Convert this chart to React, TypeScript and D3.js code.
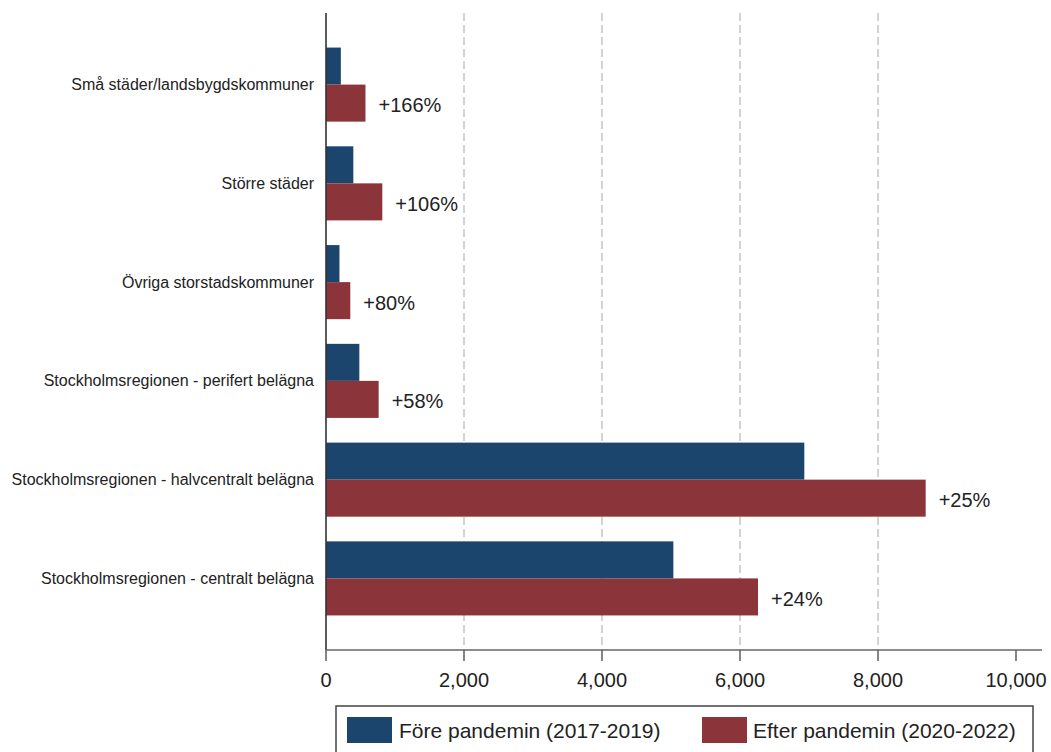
import React from "react";
import * as d3 from "d3";

const categories = [
  "Små städer/landsbygdskommuner",
  "Större städer",
  "Övriga storstadskommuner",
  "Stockholmsregionen - perifert belägna",
  "Stockholmsregionen - halvcentralt belägna",
  "Stockholmsregionen - centralt belägna",
];
const beforeValues = [215, 396, 195, 483, 6932, 5034];
const afterValues = [572, 816, 352, 763, 8691, 6261];
const changeLabels = ["+166%", "+106%", "+80%", "+58%", "+25%", "+24%"];
const seriesNames = ["Före pandemin (2017-2019)", "Efter pandemin (2020-2022)"];
const seriesColors = ["#1b456d", "#8b343a"];
const xTicks = [0, 2000, 4000, 6000, 8000, 10000];
const gridTicks = [2000, 4000, 6000, 8000];

const W = 1051;
const H = 752;
const FONT = "'Liberation Sans', Arial, sans-serif";

export default function App() {
  const axisY = 650;
  const x = d3.scaleLinear().domain([0, 10000]).range([326, 1016]);
  const y = d3
    .scaleBand<string>()
    .domain(categories)
    .range([13, axisY])
    .paddingInner(0.25)
    .paddingOuter(0.35);
  const inner = d3
    .scaleBand<string>()
    .domain(["before", "after"])
    .range([0, y.bandwidth()])
    .padding(0);
  const fmt = d3.format(",");

  return (
    <svg
      width={W}
      height={H}
      style={{ position: "absolute", left: 0, top: 0, display: "block", background: "#fff" }}
      fontFamily={FONT}
    >
      {/* grid lines */}
      {gridTicks.map((t) => (
        <line
          key={"g" + t}
          x1={x(t)}
          x2={x(t)}
          y1={13}
          y2={axisY}
          stroke="#d3d3d3"
          strokeWidth={2}
          strokeDasharray="8,4"
        />
      ))}

      {/* bars */}
      {categories.map((c, i) => {
        const y0 = y(c) as number;
        return (
          <g key={c}>
            <rect
              x={x(0)}
              y={y0 + (inner("before") as number)}
              width={x(beforeValues[i]) - x(0)}
              height={inner.bandwidth()}
              fill={seriesColors[0]}
            />
            <rect
              x={x(0)}
              y={y0 + (inner("after") as number)}
              width={x(afterValues[i]) - x(0)}
              height={inner.bandwidth()}
              fill={seriesColors[1]}
            />
            <text
              x={x(afterValues[i]) + 13}
              y={y0 + (inner("after") as number) + inner.bandwidth() / 2 + 2}
              dominantBaseline="central"
              fontSize={20}
              fill="#222"
            >
              {changeLabels[i]}
            </text>
            <text
              x={314}
              y={y0 + y.bandwidth() / 2}
              textAnchor="end"
              dominantBaseline="central"
              fontSize={16}
              fill="#222"
            >
              {c}
            </text>
          </g>
        );
      })}

      {/* y axis line */}
      <line x1={326} x2={326} y1={13} y2={axisY} stroke="#333" strokeWidth={1.6} />

      {/* x axis */}
      <line x1={326} x2={1042} y1={axisY} y2={axisY} stroke="#666" strokeWidth={1.6} />
      {xTicks.map((t) => (
        <g key={"t" + t}>
          <line x1={x(t)} x2={x(t)} y1={axisY} y2={axisY + 11} stroke="#666" strokeWidth={1.6} />
          <text
            x={x(t)}
            y={axisY + 30}
            textAnchor="middle"
            dominantBaseline="central"
            fontSize={20}
            fill="#222"
          >
            {fmt(t)}
          </text>
        </g>
      ))}

      {/* legend */}
      <rect x={336} y={706} width={697} height={80} fill="#fff" stroke="#444" strokeWidth={1.5} />
      <rect x={347} y={717} width={45} height={26} fill={seriesColors[0]} />
      <text x={399} y={730} dominantBaseline="central" fontSize={21} fill="#222">
        {seriesNames[0]}
      </text>
      <rect x={702} y={717} width={45} height={26} fill={seriesColors[1]} />
      <text x={753} y={730} dominantBaseline="central" fontSize={21} fill="#222">
        {seriesNames[1]}
      </text>
    </svg>
  );
}
